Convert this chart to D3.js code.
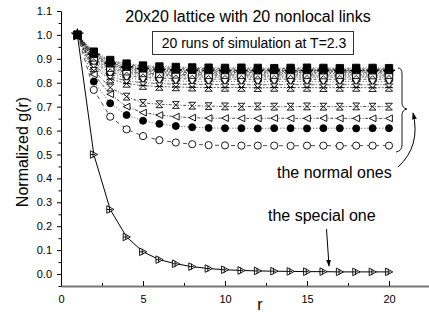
<!DOCTYPE html>
<html>
<head>
<meta charset="utf-8">
<script src="https://cdn.jsdelivr.net/npm/d3@7"></script>
<style>
  body { margin: 0; background: #fff; }
  svg { display: block; font-family: "Liberation Sans", Arial, sans-serif; }
</style>
</head>
<body>
<div class="chart"></div>
<script>
// distance r along the lattice
const rValues = [1, 2, 3, 4, 5, 6, 7, 8, 9, 10, 11, 12, 13, 14, 15, 16, 17, 18, 19, 20];

// the special run
const specialRun = [1.0, 0.50, 0.27, 0.155, 0.093, 0.06, 0.043, 0.031, 0.023, 0.018, 0.015, 0.013, 0.012, 0.011, 0.01, 0.01, 0.009, 0.009, 0.009, 0.009];

// four normal runs that stand apart from the bunch
const hourglassRun = [1.0, 0.85, 0.78, 0.742, 0.716, 0.71, 0.707, 0.704, 0.702, 0.701, 0.70, 0.701, 0.70, 0.70, 0.701, 0.70, 0.70, 0.701, 0.70, 0.70];
const leftTriRun   = [1.0, 0.835, 0.752, 0.70, 0.675, 0.665, 0.658, 0.654, 0.652, 0.652, 0.651, 0.651, 0.652, 0.651, 0.651, 0.652, 0.651, 0.651, 0.651, 0.651];
const dotRun       = [1.0, 0.805, 0.714, 0.665, 0.641, 0.628, 0.619, 0.614, 0.611, 0.61, 0.61, 0.609, 0.61, 0.61, 0.609, 0.61, 0.61, 0.609, 0.61, 0.61];
const ringRun      = [1.0, 0.77, 0.658, 0.605, 0.577, 0.56, 0.55, 0.543, 0.539, 0.538, 0.537, 0.537, 0.537, 0.536, 0.537, 0.537, 0.536, 0.537, 0.537, 0.537];

// the bunch of normal runs near 0.78 - 0.86
const bunchRuns = [
  [1.0, 0.93, 0.895, 0.88, 0.872, 0.868, 0.866, 0.864, 0.863, 0.862, 0.863, 0.862, 0.861, 0.862, 0.863, 0.862, 0.861, 0.862, 0.862, 0.861],
  [1.0, 0.925, 0.89, 0.876, 0.868, 0.863, 0.861, 0.86, 0.859, 0.858, 0.858, 0.857, 0.858, 0.859, 0.858, 0.857, 0.858, 0.858, 0.857, 0.858],
  [1.0, 0.92, 0.886, 0.872, 0.864, 0.86, 0.857, 0.856, 0.855, 0.855, 0.854, 0.855, 0.855, 0.854, 0.855, 0.856, 0.855, 0.854, 0.855, 0.855],
  [1.0, 0.918, 0.882, 0.868, 0.86, 0.856, 0.854, 0.852, 0.852, 0.851, 0.852, 0.851, 0.852, 0.852, 0.851, 0.852, 0.852, 0.851, 0.852, 0.852],
  [1.0, 0.915, 0.878, 0.864, 0.856, 0.852, 0.85, 0.849, 0.848, 0.848, 0.847, 0.848, 0.848, 0.847, 0.848, 0.848, 0.847, 0.848, 0.848, 0.847],
  [1.0, 0.912, 0.875, 0.86, 0.853, 0.849, 0.847, 0.846, 0.845, 0.845, 0.844, 0.845, 0.845, 0.844, 0.845, 0.845, 0.845, 0.844, 0.845, 0.845],
  [1.0, 0.908, 0.872, 0.857, 0.85, 0.846, 0.844, 0.842, 0.842, 0.841, 0.842, 0.842, 0.841, 0.842, 0.842, 0.841, 0.842, 0.842, 0.841, 0.842],
  [1.0, 0.905, 0.868, 0.853, 0.846, 0.842, 0.84, 0.839, 0.838, 0.838, 0.837, 0.838, 0.838, 0.838, 0.837, 0.838, 0.838, 0.837, 0.838, 0.838],
  [1.0, 0.90, 0.862, 0.848, 0.841, 0.837, 0.835, 0.834, 0.833, 0.833, 0.833, 0.832, 0.833, 0.833, 0.833, 0.832, 0.833, 0.833, 0.832, 0.833],
  [1.0, 0.895, 0.857, 0.843, 0.836, 0.832, 0.83, 0.829, 0.828, 0.828, 0.828, 0.827, 0.828, 0.828, 0.828, 0.827, 0.828, 0.828, 0.827, 0.828],
  [1.0, 0.89, 0.85, 0.836, 0.829, 0.826, 0.824, 0.823, 0.822, 0.822, 0.822, 0.821, 0.822, 0.822, 0.822, 0.821, 0.822, 0.822, 0.821, 0.822],
  [1.0, 0.885, 0.843, 0.829, 0.822, 0.819, 0.817, 0.816, 0.815, 0.815, 0.815, 0.814, 0.815, 0.815, 0.815, 0.814, 0.815, 0.815, 0.814, 0.815],
  [1.0, 0.878, 0.835, 0.82, 0.813, 0.809, 0.807, 0.806, 0.805, 0.805, 0.805, 0.804, 0.805, 0.805, 0.805, 0.804, 0.805, 0.805, 0.804, 0.805],
  [1.0, 0.87, 0.825, 0.808, 0.80, 0.796, 0.794, 0.793, 0.792, 0.792, 0.792, 0.791, 0.792, 0.792, 0.792, 0.791, 0.792, 0.792, 0.791, 0.792],
  [1.0, 0.862, 0.815, 0.797, 0.788, 0.784, 0.782, 0.781, 0.78, 0.78, 0.78, 0.779, 0.78, 0.78, 0.78, 0.779, 0.78, 0.78, 0.779, 0.78]
];
const bunchMarkers = ["square", "circle", "triUp", "triDown", "diamond", "star", "leftTriF", "rightTriF",
                      "circle", "triUpO", "squareO", "diamondO", "triDownO", "xmark", "hourX"];
const bunchDashes = ["1,1.5", "3,2", "1,2", "4,1.5,1,1.5", "2,1.5"];

const yMajorTicks = [0.0, 0.1, 0.2, 0.3, 0.4, 0.5, 0.6, 0.7, 0.8, 0.9, 1.0, 1.1];
const yMinorTicks = [-0.05, 0.05, 0.15, 0.25, 0.35, 0.45, 0.55, 0.65, 0.75, 0.85, 0.95, 1.05];
const xMajorTicks = [0, 5, 10, 15, 20];
const xMinorTicks = [2.5, 7.5, 12.5, 17.5, 22.5];

const width = 429;
const height = 312;

const svg = d3.select(".chart").append("svg")
    .attr("width", width)
    .attr("height", height);

const xScale = d3.scaleLinear().domain([0, 22.5]).range([61, 430]);
const yScale = d3.scaleLinear().domain([-0.05, 1.1]).range([286, 11]);

// marker shapes, s = half size
const markerPath = (kind, s) => {
    const sym = (type, area) => d3.symbol().type(type).size(area)();
    switch (kind) {
        case "square": case "squareO": return sym(d3.symbolSquare, 4 * s * s);
        case "circle": case "circleO": return sym(d3.symbolCircle, Math.PI * s * s);
        case "triUp": case "triUpO": return `M0,${-s}L${s},${s * 0.8}L${-s},${s * 0.8}Z`;
        case "triDown": case "triDownO": return `M0,${s}L${s},${-s * 0.8}L${-s},${-s * 0.8}Z`;
        case "diamond": case "diamondO": return `M0,${-s}L${s},0L0,${s}L${-s},0Z`;
        case "star": return sym(d3.symbolStar, 3.2 * s * s);
        case "leftTriF": case "leftTri": return `M${s},${-s}L${-s},0L${s},${s}Z`;
        case "rightTriF": return `M${-s},${-s}L${s},0L${-s},${s}Z`;
        case "rightTriPlus": return `M${-s * 0.9},${-s}L${s},0L${-s * 0.9},${s}Z M${-s * 0.2},${-s * 0.8}L${-s * 0.2},${s * 0.8} M${-s * 0.9},0L${s * 0.4},0`;
        case "hourglass": return `M${-s},${-s}L${s},${-s}L${-s},${s}L${s},${s}Z`;
        case "hourX": return `M${-s},${-s}L${s},${-s}L${-s},${s}L${s},${s}Z M${-s},0L${s},0`;
        case "xmark": return `M${-s},${-s}L${s},${s}M${s},${-s}L${-s},${s}`;
    }
};
const isFilled = kind => ["square", "circle", "triUp", "triDown", "diamond", "star", "leftTriF", "rightTriF", "dot"].includes(kind);

const line = d3.line()
    .x((d, i) => xScale(rValues[i]))
    .y(d => yScale(d));

const drawRun = (values, kind, dash, lineWidth, size) => {
    const g = svg.append("g");
    g.append("path")
        .attr("d", line(values))
        .attr("fill", "none")
        .attr("stroke", "#000")
        .attr("stroke-width", lineWidth)
        .attr("stroke-dasharray", dash);
    g.selectAll("path.marker")
        .data(values)
        .enter()
        .append("path")
        .attr("class", "marker")
        .attr("transform", (d, i) => `translate(${xScale(rValues[i])},${yScale(d)})`)
        .attr("d", kind === "dot" ? markerPath("circle", size) : markerPath(kind, size))
        .attr("fill", isFilled(kind) ? "#000" : "#fff")
        .attr("stroke", "#000")
        .attr("stroke-width", 0.9);
};

// axes
const yAxis = d3.axisLeft(yScale).tickValues(yMajorTicks).tickFormat(d3.format(".1f"))
    .tickSize(4).tickSizeOuter(0).tickPadding(5);
const yMinor = d3.axisLeft(yScale).tickValues(yMinorTicks).tickFormat("").tickSize(2.5).tickSizeOuter(0);
const xAxis = d3.axisBottom(xScale).tickValues(xMajorTicks).tickFormat(d3.format("d"))
    .tickSize(-5).tickSizeOuter(0).tickPadding(9);
const xMinor = d3.axisBottom(xScale).tickValues(xMinorTicks).tickFormat("").tickSize(-3).tickSizeOuter(0);

svg.append("g").attr("transform", "translate(61,0)").call(yMinor);
svg.append("g").attr("class", "yaxis").attr("transform", "translate(61,0)").call(yAxis);
svg.append("g").attr("transform", "translate(0,286)").call(xMinor);
svg.append("g").attr("class", "xaxis").attr("transform", "translate(0,286)").call(xAxis);

svg.selectAll(".tick text").attr("font-size", 11).attr("fill", "#000")
    .attr("font-family", '"Liberation Sans", Arial, sans-serif');
svg.selectAll(".xaxis .domain").attr("stroke", "#777").attr("stroke-width", 2);

// runs (special one first so the shared r=1 point shows as a black blob)
drawRun(specialRun, "rightTriPlus", null, 1, 3.8);
bunchRuns.forEach((run, i) => drawRun(run, bunchMarkers[i], bunchDashes[i % bunchDashes.length], 0.6, 3.7));
drawRun(hourglassRun, "hourglass", "1,1.6,3,1.6", 0.7, 3.4);
drawRun(leftTriRun, "leftTri", "3,1.5,1,1.5", 0.7, 3.4);
drawRun(dotRun, "dot", "1,2", 0.7, 3.5);
drawRun(ringRun, "circleO", "4,4", 0.7, 3.6);
// redraw the shared first point filled
svg.append("path")
    .attr("transform", `translate(${xScale(rValues[0])},${yScale(bunchRuns[0][0])})`)
    .attr("d", markerPath("square", 4))
    .attr("fill", "#000");

// labels
svg.append("text")
    .attr("transform", "translate(28,152) rotate(-90)")
    .attr("text-anchor", "middle")
    .attr("font-size", 16)
    .text("Normalized g(r)");
svg.append("text")
    .attr("x", 260).attr("y", 310)
    .attr("text-anchor", "middle")
    .attr("font-size", 16)
    .text("r");

svg.append("text")
    .attr("x", 248).attr("y", 22)
    .attr("text-anchor", "middle")
    .attr("font-size", 16)
    .text("20x20 lattice with 20 nonlocal links");

svg.append("rect")
    .attr("x", 152.5).attr("y", 31.5)
    .attr("width", 201).attr("height", 23)
    .attr("fill", "#fff")
    .attr("stroke", "#333")
    .attr("stroke-width", 1);
svg.append("text")
    .attr("x", 254).attr("y", 48)
    .attr("text-anchor", "middle")
    .attr("font-size", 14)
    .text("20 runs of simulation at T=2.3");

// annotations
svg.append("defs").append("marker")
    .attr("id", "head")
    .attr("viewBox", "0 0 10 10")
    .attr("refX", 9).attr("refY", 5)
    .attr("markerWidth", 7).attr("markerHeight", 7)
    .attr("orient", "auto-start-reverse")
    .append("path")
    .attr("d", "M0,1.5L10,5L0,8.5Z")
    .attr("fill", "#000");

svg.append("path")
    .attr("d", "M398,68 Q402,68 402,74 L402,103 Q402,108 407,109 Q402,110 402,115 L402,145 Q402,151 396,152")
    .attr("fill", "none")
    .attr("stroke", "#000")
    .attr("stroke-width", 0.9);

svg.append("text")
    .attr("x", 277).attr("y", 178)
    .attr("font-size", 16)
    .text("the normal ones");
svg.append("path")
    .attr("d", "M398,167 Q421,146 413,113")
    .attr("fill", "none")
    .attr("stroke", "#000")
    .attr("stroke-width", 1)
    .attr("marker-end", "url(#head)");

svg.append("text")
    .attr("x", 268).attr("y", 221)
    .attr("font-size", 16)
    .text("the special one");
svg.append("path")
    .attr("d", "M326.5,229 L329,266")
    .attr("fill", "none")
    .attr("stroke", "#000")
    .attr("stroke-width", 1)
    .attr("marker-end", "url(#head)");
</script>
</body>
</html>
